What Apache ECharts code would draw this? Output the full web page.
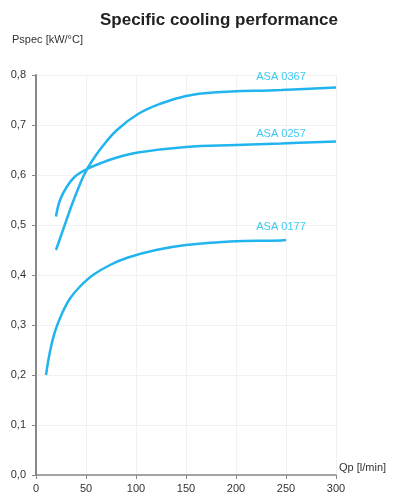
<!DOCTYPE html>
<html>
<head>
<meta charset="utf-8">
<script src="https://cdn.jsdelivr.net/npm/echarts@6/dist/echarts.min.js"></script>
<style>
html,body{margin:0;padding:0;background:#fff;}
#chart{width:393px;height:496px;}
</style>
</head>
<body>
<div id="chart"></div>
<script>
const seriesNames = ['ASA 0367', 'ASA 0257', 'ASA 0177'];
const qp0367 = [20, 27, 34, 41, 48, 56, 66, 81, 102, 125, 150, 177, 245, 300];
const p0367  = [0.45, 0.49, 0.53, 0.567, 0.6, 0.628, 0.656, 0.69, 0.722, 0.743, 0.758, 0.765, 0.77, 0.775];
const qp0257 = [20, 24, 31, 39, 49, 64, 81, 102, 150, 200, 245, 300];
const p0257  = [0.517, 0.55, 0.577, 0.597, 0.61, 0.623, 0.635, 0.645, 0.656, 0.66, 0.663, 0.667];
const qp0177 = [10, 14, 19, 26, 34, 44, 57, 74, 92, 120, 150, 194, 245, 250];
const p0177  = [0.2, 0.247, 0.287, 0.323, 0.353, 0.377, 0.4, 0.42, 0.435, 0.45, 0.46, 0.467, 0.469, 0.47];
const labelAtQp = 245;

const lineColor = '#22b4ee';
const labelColor = '#3dcaf2';

function build(xs, ys, dist) {
  return xs.map((x, i) => {
    const item = { value: [x, ys[i]] };
    if (x === labelAtQp) {
      item.label = { show: true, position: 'top', distance: dist, formatter: '{a}', color: labelColor, fontSize: 11, fontFamily: 'Liberation Sans' };
    }
    return item;
  });
}

function mkSeries(i, xs, ys, dist) {
  return {
    name: seriesNames[i], type: 'line', smooth: 0.4,
    showSymbol: true, showAllSymbol: true, symbol: 'circle', symbolSize: 0.01,
    itemStyle: { color: lineColor },
    lineStyle: { color: lineColor, width: 2.5 },
    emphasis: { disabled: true },
    data: build(xs, ys, dist)
  };
}

const chart = echarts.init(document.getElementById('chart'));
chart.setOption({
  animation: false,
  title: {
    text: 'Specific cooling performance',
    left: 214, top: 7, textAlign: 'center',
    textStyle: { fontSize: 17, fontWeight: 'bold', color: '#222', fontFamily: 'Liberation Sans' }
  },
  grid: { left: 36, right: 57, top: 75, bottom: 21, containLabel: false, outerBoundsMode: 'none' },
  xAxis: {
    type: 'value', min: 0, max: 300, interval: 50,
    name: 'Qp [l/min]', nameLocation: 'end', nameGap: 3,
    nameTextStyle: { color: '#333', fontSize: 11, fontFamily: 'Liberation Sans', verticalAlign: 'bottom', padding: [0,0,2,0] },
    axisLine: { lineStyle: { color: '#888', width: 1.5 } },
    axisTick: { show: true, length: 4, lineStyle: { color: '#888' } },
    axisLabel: { color: '#333', fontSize: 11, fontFamily: 'Liberation Sans', margin: 8 },
    splitLine: { show: true, lineStyle: { color: '#f1f1f1' } }
  },
  yAxis: {
    type: 'value', min: 0, max: 0.8, interval: 0.1,
    name: 'Pspec [kW/°C]', nameLocation: 'end', nameGap: 30,
    nameTextStyle: { color: '#333', fontSize: 11, fontFamily: 'Liberation Sans', align: 'left', padding: [0,0,0,-24] },
    axisLine: { show: true, lineStyle: { color: '#888', width: 2 } },
    axisTick: { show: true, length: 4, lineStyle: { color: '#888' } },
    axisLabel: { color: '#333', fontSize: 11, fontFamily: 'Liberation Sans', margin: 10,
      formatter: v => v.toFixed(1).replace('.', ',') },
    splitLine: { show: true, lineStyle: { color: '#f1f1f1' } }
  },
  series: [
    mkSeries(0, qp0367, p0367, 8),
    mkSeries(1, qp0257, p0257, 4),
    mkSeries(2, qp0177, p0177, 8)
  ]
});
</script>
</body>
</html>
